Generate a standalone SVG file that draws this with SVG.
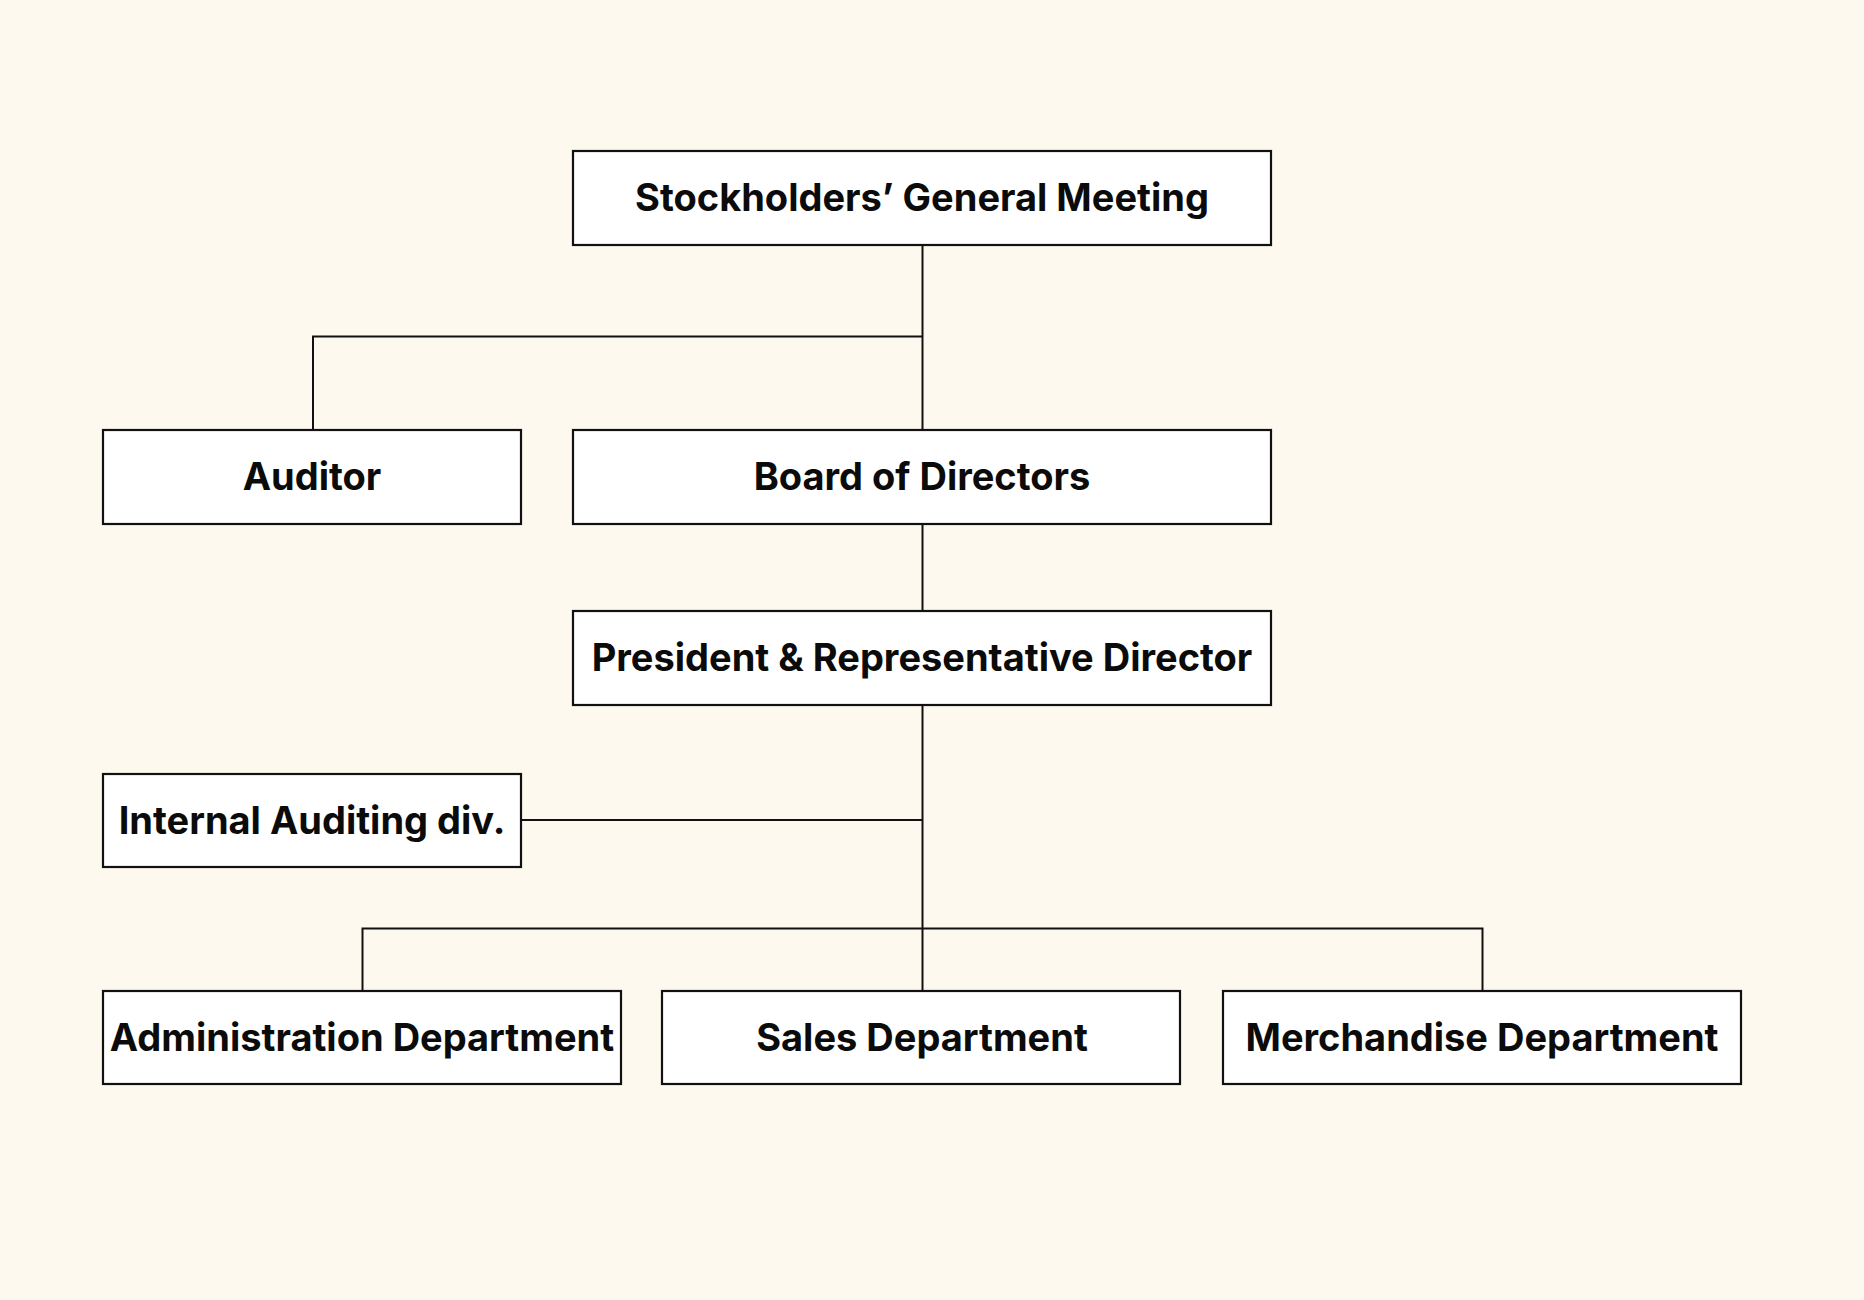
<svg xmlns="http://www.w3.org/2000/svg" width="1864" height="1300" viewBox="0 0 1864 1300">
<style>
.box{fill:#ffffff;stroke:#111111;stroke-width:2.2}
.lbl{font-family:Inter,"Liberation Sans",sans-serif;font-weight:700;font-size:38px;fill:#0b0b0b;text-anchor:middle}
.con{fill:none;stroke:#111111;stroke-width:2}
</style>
<rect x="0" y="0" width="1864" height="1300" fill="#fef9ee"/>
<g id="connectors">
<path class="con" d="M922.5 245 V430"/>
<path class="con" d="M313 430 V336.5 H922.5"/>
<path class="con" d="M922.5 524 V611"/>
<path class="con" d="M922.5 705 V991"/>
<path class="con" d="M521 820 H922.5"/>
<path class="con" d="M362.5 991 V928.5 H1482.5 V991"/>
</g>
<g id="n-meeting"><rect class="box" x="573" y="151" width="698" height="94"/><text class="lbl" x="922" y="211">Stockholders’ General Meeting</text></g>
<g id="n-auditor"><rect class="box" x="103" y="430" width="418" height="94"/><text class="lbl" x="312" y="490">Auditor</text></g>
<g id="n-board"><rect class="box" x="573" y="430" width="698" height="94"/><text class="lbl" x="922" y="490">Board of Directors</text></g>
<g id="n-president"><rect class="box" x="573" y="611" width="698" height="94"/><text class="lbl" x="922" y="671">President &amp; Representative Director</text></g>
<g id="n-internal"><rect class="box" x="103" y="774" width="418" height="93"/><text class="lbl" x="312" y="834">Internal Auditing div.</text></g>
<g id="n-admin"><rect class="box" x="103" y="991" width="518" height="93"/><text class="lbl" x="362" y="1051">Administration Department</text></g>
<g id="n-sales"><rect class="box" x="662" y="991" width="518" height="93"/><text class="lbl" x="922" y="1051">Sales Department</text></g>
<g id="n-merch"><rect class="box" x="1223" y="991" width="518" height="93"/><text class="lbl" x="1482" y="1051">Merchandise Department</text></g>
</svg>
